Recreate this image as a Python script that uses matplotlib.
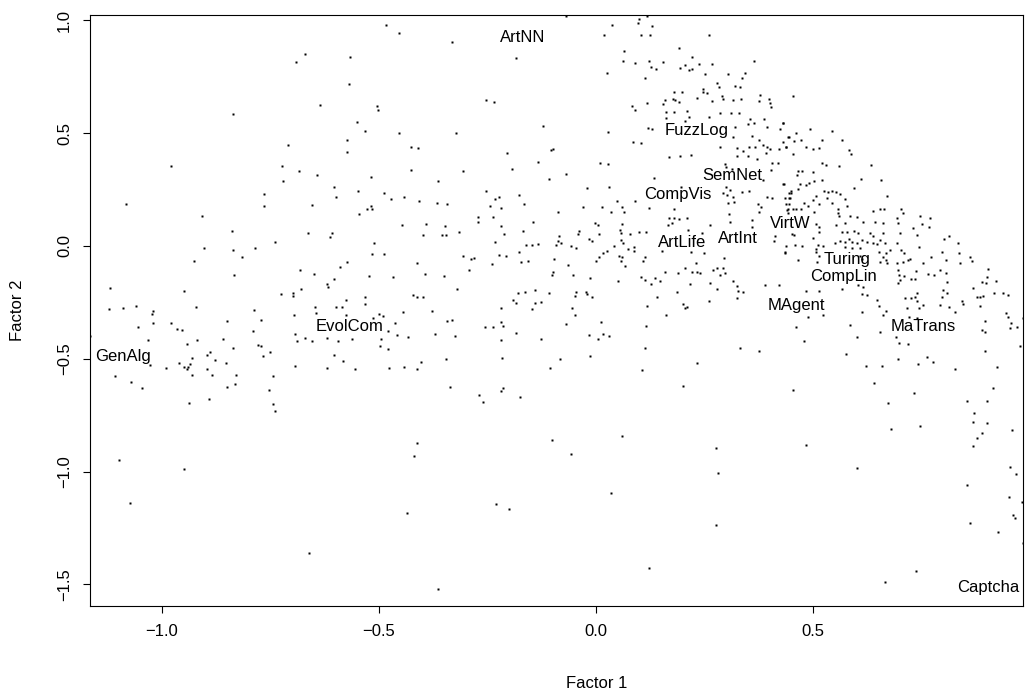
import matplotlib
matplotlib.use("Agg")
import matplotlib.pyplot as plt

plt.rcParams['font.family'] = ['Liberation Sans', 'DejaVu Sans']

# factor scores, read off the picture region by region
# upper left
f1 = [-0.670, -0.692, -0.636, -0.836, -0.710, -0.979, -0.724, -0.684, -0.642, -0.721,
      -0.766, -1.082, -0.766, -0.655,
      -0.485, -0.455, -0.331, -0.568, -0.185, -0.569, -0.253, -0.234, -0.505, -0.503,
      -0.550, -0.532, -0.453, -0.323, -0.121, -0.573, -0.574, -0.427, -0.411, -0.206,
      -0.103, -0.133, -0.193, -0.426, -0.306, -0.518, -0.109, -0.365, -0.603, -0.599,
      -0.549, -0.489, -0.472, -0.443, -0.408, -0.366, -0.344, -0.253, -0.232, -0.223,
      -0.177, -0.244, -0.220, -0.165, -0.518, -0.528, -0.517]
f2 = [0.851, 0.816, 0.625, 0.585, 0.448, 0.356, 0.355, 0.332, 0.315, 0.288,
      0.230, 0.186, 0.177, 0.182,
      0.981, 0.946, 0.906, 0.839, 0.835, 0.719, 0.646, 0.640, 0.621, 0.604,
      0.551, 0.511, 0.502, 0.502, 0.533, 0.471, 0.418, 0.440, 0.436, 0.414,
      0.427, 0.374, 0.343, 0.337, 0.332, 0.307, 0.298, 0.288, 0.263, 0.219,
      0.245, 0.236, 0.210, 0.219, 0.201, 0.192, 0.187, 0.245, 0.210, 0.219,
      0.227, 0.179, 0.170, 0.187, 0.179, 0.163, 0.163]

# upper middle (FuzzLog / SemNet area)
f1 += [-0.070, 0.117, 0.099, 0.097, 0.038, 0.128, 0.018, 0.104, 0.124, 0.260,
       0.192, 0.065, 0.221, 0.364, 0.063, 0.090, 0.123, 0.155, 0.126, 0.138,
       0.194, 0.205, 0.215, 0.221, 0.237, 0.267, 0.252, 0.305, 0.343, 0.026,
       0.112, 0.336, 0.278, 0.284, 0.320, 0.333, 0.247, 0.247, 0.255, 0.180,
       0.199, 0.378, 0.290, 0.232, 0.177, 0.182, 0.192, 0.159, 0.268, 0.293,
       0.316, 0.334, 0.376, 0.398, 0.402, 0.403, 0.117, 0.154, 0.083, 0.090,
       0.161, 0.180, 0.210, 0.286, 0.312, 0.330, 0.260, 0.214, 0.162, 0.204,
       0.356, 0.388, 0.432, 0.351, 0.364, 0.320, 0.121, 0.128, 0.395, 0.424,
       0.028, 0.315, 0.442, 0.359, 0.376, 0.086, 0.103, -0.100, 0.286, 0.324,
       0.338, 0.353, 0.366, 0.384, 0.395, 0.401, 0.421, 0.437, 0.392, 0.351,
       0.324, 0.168, 0.194, 0.220, 0.370, 0.405, 0.420, 0.009, 0.028, 0.297,
       0.300, 0.313, -0.070, 0.404, 0.134, 0.385, 0.432, -0.021, 0.031, 0.197,
       0.299, 0.309, 0.293, 0.336, 0.352, 0.303, 0.315, 0.393, 0.406, 0.444,
       0.447, 0.048, 0.090, -0.031, 0.015, 0.059, 0.122, 0.180, 0.305, 0.319,
       0.374, 0.380, 0.444]
f2 += [1.020, 1.018, 1.006, 0.990, 0.981, 0.975, 0.937, 0.937, 0.937, 0.937,
       0.879, 0.864, 0.839, 0.821, 0.820, 0.813, 0.820, 0.816, 0.792, 0.785,
       0.791, 0.802, 0.780, 0.783, 0.805, 0.805, 0.764, 0.764, 0.766, 0.768,
       0.746, 0.746, 0.723, 0.706, 0.708, 0.706, 0.696, 0.681, 0.677, 0.683,
       0.684, 0.669, 0.664, 0.656, 0.650, 0.647, 0.640, 0.647, 0.641, 0.650,
       0.647, 0.650, 0.644, 0.650, 0.633, 0.615, 0.635, 0.629, 0.621, 0.603,
       0.595, 0.595, 0.600, 0.588, 0.591, 0.591, 0.573, 0.570, 0.567, 0.555,
       0.563, 0.562, 0.544, 0.542, 0.544, 0.526, 0.522, 0.517, 0.527, 0.517,
       0.507, 0.485, 0.485, 0.488, 0.470, 0.462, 0.458, 0.429, 0.440, 0.433,
       0.423, 0.440, 0.440, 0.448, 0.437, 0.431, 0.429, 0.440, 0.414, 0.400,
       0.400, 0.396, 0.400, 0.403, 0.384, 0.366, 0.366, 0.366, 0.362, 0.363,
       0.352, 0.340, 0.318, 0.337, 0.303, 0.293, 0.273, 0.256, 0.263, 0.263,
       0.260, 0.248, 0.236, 0.238, 0.242, 0.225, 0.219, 0.219, 0.214, 0.236,
       0.211, 0.199, 0.199, 0.174, 0.171, 0.174, 0.167, 0.163, 0.192, 0.196,
       0.186, 0.174, 0.186]

# upper right
f1 += [0.455, 0.432, 0.493, 0.544, 0.461, 0.445, 0.430, 0.457, 0.472, 0.520,
       0.568, 0.438, 0.485, 0.499, 0.515, 0.583, 0.587, 0.455, 0.520, 0.529,
       0.561, 0.634, 0.465, 0.475, 0.464, 0.501, 0.610, 0.656, 0.503, 0.520,
       0.434, 0.470, 0.485, 0.491, 0.466, 0.594, 0.449, 0.449, 0.526, 0.535,
       0.544, 0.553, 0.562, 0.506, 0.436, 0.445, 0.499, 0.532, 0.574, 0.543,
       0.671, 0.438, 0.479, 0.488, 0.515, 0.579, 0.443, 0.453, 0.462, 0.472,
       0.558, 0.654, 0.664, 0.702]
f2 += [0.666, 0.547, 0.517, 0.511, 0.500, 0.485, 0.462, 0.467, 0.470, 0.470,
       0.470, 0.440, 0.440, 0.430, 0.436, 0.426, 0.408, 0.408, 0.366, 0.359,
       0.356, 0.359, 0.332, 0.332, 0.315, 0.328, 0.297, 0.293, 0.289, 0.293,
       0.273, 0.275, 0.270, 0.278, 0.253, 0.258, 0.245, 0.234, 0.245, 0.241,
       0.244, 0.239, 0.230, 0.223, 0.214, 0.214, 0.204, 0.214, 0.210, 0.192,
       0.223, 0.185, 0.189, 0.179, 0.187, 0.179, 0.164, 0.164, 0.164, 0.164,
       0.164, 0.163, 0.163, 0.164]

# middle left (GenAlg / EvolCom)
f1 += [-0.908, -0.839, -0.836, -0.786, -0.739, -0.663, -0.614, -0.903, -0.816, -0.927,
       -0.835, -0.683, -0.649, -1.119, -0.950, -0.725, -0.699, -0.699, -0.680, -0.621,
       -0.617, -1.123, -1.089, -1.059, -1.020, -1.024, -0.922, -0.789, -0.647, -0.645,
       -0.697, -1.055, -1.021, -0.979, -0.966, -0.954, -0.851, -0.771, -0.791, -1.166,
       -1.032, -0.942, -0.920, -0.859, -0.836, -0.779, -0.771, -0.751, -0.767, -0.693,
       -0.690, -0.671, -0.654, -0.619, -0.897, -0.889, -0.879, -0.853, -0.932, -0.935,
       -0.941, -0.949, -0.960, -0.942, -1.027, -0.992, -0.930, -0.896, -0.884, -0.830,
       -0.833, -0.850, -0.745, -0.753, -0.694, -0.621, -1.108, -1.072, -1.047, -0.891,
       -0.939, -0.745, -0.739, -1.099, -0.949, -1.074, -0.661]
f2 += [0.133, 0.066, -0.018, -0.009, 0.018, 0.058, 0.041, -0.009, -0.049, -0.066,
       -0.129, -0.106, -0.124, -0.186, -0.198, -0.213, -0.210, -0.222, -0.191, -0.168,
       -0.180, -0.278, -0.275, -0.266, -0.287, -0.301, -0.270, -0.284, -0.269, -0.296,
       -0.306, -0.359, -0.341, -0.341, -0.368, -0.371, -0.332, -0.327, -0.377, -0.399,
       -0.415, -0.434, -0.417, -0.411, -0.451, -0.439, -0.443, -0.470, -0.486, -0.390,
       -0.421, -0.406, -0.421, -0.406, -0.483, -0.470, -0.505, -0.517, -0.496, -0.523,
       -0.535, -0.535, -0.517, -0.547, -0.526, -0.539, -0.570, -0.545, -0.570, -0.570,
       -0.610, -0.625, -0.575, -0.638, -0.530, -0.541, -0.575, -0.601, -0.628, -0.678,
       -0.694, -0.699, -0.730, -0.949, -0.988, -1.139, -1.359]

# middle centre
f1 += [-0.545, -0.088, -0.271, -0.238, -0.271, -0.145, -0.446, -0.391, -0.347, -0.220,
       -0.169, -0.609, -0.398, -0.356, -0.346, -0.315, -0.213, -0.086, -0.511, -0.233,
       -0.162, -0.147, -0.133, -0.088, -0.091, -0.517, -0.488, -0.177, -0.306, -0.289,
       -0.280, -0.223, -0.207, -0.172, -0.157, -0.097, -0.574, -0.591, -0.412, -0.240,
       -0.293, -0.100, -0.102, -0.522, -0.468, -0.393, -0.350, -0.603, -0.320, -0.532,
       -0.421, -0.413, -0.399, -0.575, -0.533, -0.598, -0.585, -0.379, -0.445, -0.577,
       -0.513, -0.499, -0.491, -0.464, -0.479, -0.458, -0.434, -0.370, -0.343, -0.332,
       -0.325, -0.594, -0.563, -0.495, -0.497, -0.480, -0.603, -0.582, -0.555, -0.476,
       -0.443, -0.413, -0.403, -0.346, -0.255, -0.238, -0.218, -0.218, -0.214, -0.218,
       -0.216, -0.184, -0.127, -0.107, -0.084, -0.192, -0.185, -0.180, -0.164, -0.141,
       -0.109, -0.141, -0.126, -0.147, -0.336, -0.269, -0.220, -0.214, -0.174,
       -0.261, -0.412, -0.420, -0.101, -0.231, -0.200, -0.436, -0.363]
f2 += [0.142, 0.151, 0.130, 0.130, 0.108, 0.108, 0.095, 0.098, 0.090, 0.090,
       0.066, 0.058, 0.050, 0.050, 0.050, 0.062, 0.053, 0.046, 0.013, 0.018,
       0.006, 0.006, 0.010, 0.022, 0.006, -0.034, -0.034, -0.027, -0.044, -0.058,
       -0.053, -0.038, -0.044, -0.071, -0.066, -0.058, -0.071, -0.093, -0.074, -0.078,
       -0.106, -0.114, -0.129, -0.133, -0.137, -0.123, -0.133, -0.146, -0.191, -0.226,
       -0.217, -0.228, -0.226, -0.239, -0.256, -0.270, -0.270, -0.287, -0.293, -0.306,
       -0.319, -0.300, -0.309, -0.340, -0.375, -0.394, -0.402, -0.390, -0.331, -0.328,
       -0.398, -0.420, -0.411, -0.411, -0.442, -0.455, -0.483, -0.510, -0.545, -0.539,
       -0.535, -0.545, -0.514, -0.501, -0.359, -0.359, -0.275, -0.337, -0.355, -0.417,
       -0.496, -0.386, -0.411, -0.541, -0.501, -0.238, -0.251, -0.207, -0.203, -0.195,
       -0.207, -0.251, -0.247, -0.278, -0.625, -0.659, -0.643, -0.631, -0.668,
       -0.691, -0.873, -0.931, -0.860, -1.144, -1.166, -1.184, -1.520]

# centre right (ArtLife / ArtInt)
f1 += [0.035, 0.065, 0.376, 0.441, 0.442, 0.307, 0.309, 0.359, 0.359, -0.002,
       0.004, 0.061, 0.169, 0.180, 0.192, 0.209, 0.167, 0.175, 0.263, -0.038,
       -0.042, 0.006, 0.055, 0.058, 0.078, 0.098, 0.116, 0.213, 0.244, -0.081,
       -0.017, -0.010, -0.058, -0.045, 0.042, 0.058, 0.062, 0.074, 0.087, 0.088,
       0.026, 0.017, 0.007, 0.000, 0.053, 0.061, 0.058, 0.114, 0.108, 0.066,
       -0.065, -0.054, -0.014, 0.051, 0.153, 0.219, 0.250, 0.295, 0.230, 0.205,
       0.190, 0.221, 0.232, 0.239, 0.159, 0.270, 0.280, 0.293, 0.286, 0.297,
       0.104, 0.114, 0.127, 0.136, 0.147, 0.217, 0.263, 0.278, 0.316, 0.326,
       0.328, 0.339, 0.326, 0.389, 0.422, 0.413, 0.410, 0.436, -0.045, -0.048,
       -0.023, -0.020, -0.009, -0.055, -0.048, -0.068, 0.011, -0.016, 0.004, 0.017,
       0.031, -0.013, 0.117, 0.141, 0.161, 0.115, 0.187, 0.201, 0.206, 0.210,
       0.260, 0.113, 0.233, 0.333, 0.376, 0.107, 0.201,
       0.061, -0.058, 0.034, 0.276, 0.282, 0.276, 0.123]
f2 += [0.149, 0.151, 0.149, 0.160, 0.148, 0.140, 0.108, 0.115, 0.086, 0.101,
       0.095, 0.098, 0.126, 0.126, 0.120, 0.126, 0.093, 0.103, 0.095, 0.066,
       0.055, 0.055, 0.071, 0.056, 0.055, 0.063, 0.062, 0.071, 0.059, 0.012,
       0.031, 0.024, 0.001, -0.009, 0.001, 0.027, 0.012, -0.013, -0.003, -0.021,
       -0.021, -0.032, -0.047, -0.065, -0.043, -0.050, -0.065, -0.047, -0.065, -0.089,
       -0.084, -0.129, -0.142, -0.154, -0.021, -0.028, -0.030, -0.053, -0.077, -0.098,
       -0.118, -0.114, -0.114, -0.121, -0.114, -0.106, -0.098, -0.096, -0.129, -0.118,
       -0.136, -0.151, -0.168, -0.143, -0.155, -0.167, -0.165, -0.191, -0.154, -0.177,
       -0.199, -0.203, -0.229, -0.173, -0.173, 0.046, 0.024, -0.030, -0.203, -0.222,
       -0.204, -0.213, -0.225, -0.273, -0.306, -0.346, -0.337, -0.395, -0.411, -0.390,
       -0.399, -0.486, -0.266, -0.225, -0.306, -0.355, -0.203, -0.257, -0.276, -0.269,
       -0.242, -0.451, -0.519, -0.451, -0.464, -0.550, -0.619,
       -0.841, -0.921, -1.095, -0.895, -1.006, -1.237, -1.427]

# right (VirtW / Turing / CompLin / MaTrans)
f1 += [0.639, 0.708, 0.502, 0.558, 0.561, 0.585, 0.601, 0.616, 0.643, 0.662,
       0.694, 0.697, 0.747, 0.770, 0.752, 0.767, 0.731, 0.507, 0.515, 0.552,
       0.574, 0.568, 0.578, 0.594, 0.604, 0.515, 0.456, 0.451, 0.631, 0.638,
       0.662, 0.700, 0.739, 0.813, 0.802, 0.501, 0.551, 0.562, 0.574, 0.584,
       0.591, 0.601, 0.612, 0.625, 0.639, 0.648, 0.654, 0.666, 0.694, 0.439,
       0.459, 0.474, 0.512, 0.524, 0.507, 0.574, 0.589, 0.608, 0.653, 0.668,
       0.677, 0.704, 0.710, 0.720, 0.707, 0.724, 0.745, 0.797, 0.835, 0.837,
       0.839, 0.863, 0.866, 0.435, 0.466, 0.510, 0.662, 0.668, 0.671, 0.654,
       0.693, 0.754, 0.773, 0.806, 0.697, 0.699, 0.700, 0.697, 0.710, 0.725,
       0.734, 0.737, 0.766, 0.779, 0.793, 0.806, 0.808, 0.904, 0.900, 0.899,
       0.889, 0.922, 0.869, 0.877, 0.885, 0.892, 0.918, 0.937, 0.949, 0.885,
       0.945, 0.950, 0.983, 0.956, 0.954, 0.971, 0.977, 0.896, 0.889, 0.896,
       0.896, 0.925, 0.915, 0.608, 0.612, 0.506, 0.515, 0.604, 0.616, 0.612,
       0.624, 0.485, 0.515, 0.566, 0.647, 0.653, 0.668, 0.661, 0.612, 0.712,
       0.727, 0.740, 0.735, 0.739, 0.753, 0.745, 0.716, 0.799, 0.808, 0.797,
       0.793, 0.814, 0.827, 0.843, 0.846, 0.740, 0.722, 0.691, 0.698, 0.720,
       0.489, 0.522, 0.461, 0.585, 0.601, 0.654, 0.479, 0.576, 0.622, 0.658,
       0.697, 0.743, 0.762, 0.776, 0.827, 0.641, 0.455, 0.733]
f2 += [0.156, 0.148, 0.149, 0.148, 0.133, 0.133, 0.130, 0.108, 0.108, 0.101,
       0.123, 0.101, 0.133, 0.123, 0.098, 0.083, 0.081, 0.098, 0.086, 0.093,
       0.103, 0.063, 0.063, 0.066, 0.059, 0.063, 0.049, 0.053, 0.056, 0.044,
       0.059, 0.059, 0.049, 0.044, 0.030, 0.034, 0.015, 0.024, 0.019, 0.030,
       0.019, 0.012, 0.027, 0.019, 0.012, 0.007, 0.027, 0.015, 0.015, 0.001,
       0.004, 0.001, 0.004, 0.000, -0.015, -0.006, -0.010, -0.007, -0.025, -0.030,
       -0.018, -0.018, -0.032, -0.062, -0.070, -0.059, -0.006, -0.028, 0.012, -0.030,
       -0.074, -0.047, -0.065, -0.028, -0.062, -0.070, -0.047, -0.062, -0.074, -0.070,
       -0.077, -0.077, -0.050, -0.062, -0.106, -0.129, -0.151, -0.163, -0.133, -0.148,
       -0.148, -0.109, -0.124, -0.129, -0.106, -0.118, -0.158, -0.102, -0.139, -0.163,
       -0.158, -0.154, -0.188, -0.225, -0.227, -0.220, -0.207, -0.210, -0.217, -0.266,
       -0.298, -0.313, -0.320, -0.340, -0.365, -0.358, -0.442, -0.331, -0.372, -0.380,
       -0.464, -0.535, -0.628, -0.044, -0.059, -0.025, -0.043, -0.173, -0.183, -0.214,
       -0.217, -0.198, -0.199, -0.192, -0.239, -0.266, -0.287, -0.306, -0.291, -0.232,
       -0.232, -0.207, -0.225, -0.244, -0.262, -0.276, -0.276, -0.195, -0.207, -0.225,
       -0.262, -0.269, -0.291, -0.242, -0.257, -0.320, -0.313, -0.402, -0.429, -0.434,
       -0.313, -0.306, -0.358, -0.350, -0.402, -0.380, -0.421, -0.479, -0.531, -0.531,
       -0.501, -0.523, -0.491, -0.514, -0.547, -0.609, -0.638, -0.653]

# lower right (towards Captcha)
f1 += [0.674, 0.854, 0.902, 0.872, 0.868, 0.900, 0.890, 0.877, 0.868, 0.959,
       0.680, 0.747, 0.485, 0.601, 0.954, 0.967, 0.856, 0.952, 0.982, 0.962,
       0.965, 0.863, 0.927, 0.985, 0.737, 0.667]
f2 += [-0.694, -0.686, -0.686, -0.739, -0.779, -0.783, -0.827, -0.850, -0.885, -0.816,
       -0.811, -0.796, -0.881, -0.983, -0.978, -1.011, -1.059, -1.111, -1.133, -1.192,
       -1.204, -1.226, -1.266, -1.315, -1.439, -1.488]

# variable labels
names = ["ArtNN", "FuzzLog", "SemNet", "CompVis", "VirtW", "ArtLife", "ArtInt",
         "Turing", "CompLin", "MAgent", "MaTrans", "EvolCom", "GenAlg", "Captcha"]
lab_x = [-0.168, 0.233, 0.315, 0.189, 0.447, 0.198, 0.327,
         0.578, 0.571, 0.461, 0.753, -0.569, -1.090, 0.905]
lab_y = [0.926, 0.510, 0.312, 0.230, 0.098, 0.015, 0.031,
         -0.062, -0.136, -0.262, -0.355, -0.355, -0.488, -1.512]

fig = plt.figure(figsize=(10.26, 6.94), dpi=100)
ax = fig.add_axes([90 / 1026, 1 - 606 / 694, 933 / 1026, 591 / 694])

ax.plot(f1, f2, 's', ms=1.7, color='black', mec='none')
for n, x, y in zip(names, lab_x, lab_y):
    ax.text(x, y, n, ha='center', va='center', fontsize=12)

ax.set_xlim(-1.166, 0.984)
ax.set_ylim(-1.596, 1.024)
ax.set_xticks([-1.0, -0.5, 0.0, 0.5])
ax.set_yticks([-1.5, -1.0, -0.5, 0.0, 0.5, 1.0])
ax.set_xticklabels(["\u22121.0", "\u22120.5", "0.0", "0.5"])
ax.set_yticklabels(["\u22121.5", "\u22121.0", "\u22120.5", "0.0", "0.5", "1.0"],
                   rotation=90, va='center')
ax.tick_params(direction='out', length=5, width=0.8, labelsize=12, pad=8)
for s in ax.spines.values():
    s.set_linewidth(0.8)

fig.text(597 / 1026, 1 - 683 / 694, "Factor 1", ha='center', va='center', fontsize=12)
fig.text(18 / 1026, 1 - 310 / 694, "Factor 2", ha='center', va='center', fontsize=12, rotation=90)

fig.savefig("out.png", dpi=100)
